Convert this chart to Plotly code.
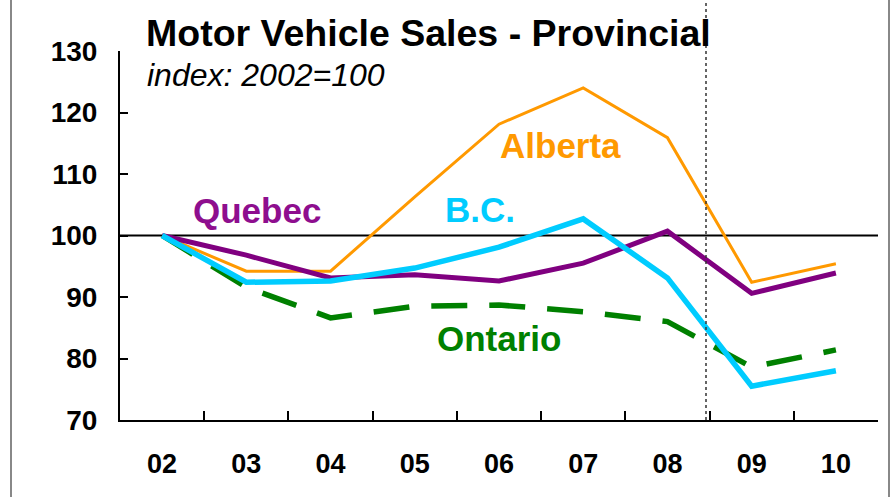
import plotly.graph_objects as go

years = ["02", "03", "04", "05", "06", "07", "08", "09", "10"]
alberta = [100, 94.2, 94.2, 106.3, 118.1, 124.0, 115.9, 92.4, 95.4]
quebec = [100, 96.8, 93.1, 93.6, 92.6, 95.5, 100.7, 90.6, 93.9]
bc = [100, 92.4, 92.6, 94.7, 98.1, 102.7, 93.1, 75.5, 78.0]
ontario = [100, 91.6, 86.6, 88.5, 88.7, 87.6, 86.0, 78.6, 81.4]
y_ticks = [70, 80, 90, 100, 110, 120, 130]

FONT = "Liberation Sans, Arial, sans-serif"
ORANGE = "#FF9900"
PURPLE = "#800080"
CYAN = "#00CCFF"
GREEN = "#008000"

fig = go.Figure()
fig.add_trace(go.Scatter(x=years, y=ontario, mode="lines", name="Ontario",
                         line=dict(color=GREEN, width=5.5, dash="36px,22px")))
fig.add_trace(go.Scatter(x=years, y=alberta, mode="lines", name="Alberta",
                         line=dict(color=ORANGE, width=3)))
fig.add_trace(go.Scatter(x=years, y=quebec, mode="lines", name="Quebec",
                         line=dict(color=PURPLE, width=5)))
fig.add_trace(go.Scatter(x=years, y=bc, mode="lines", name="B.C.",
                         line=dict(color=CYAN, width=5.5)))

L, R, T, B = 120, 15, 51, 77
W, H = 893, 497
pw, ph = W - L - R, H - T - B

def px(xp):
    return (xp - L) / pw

def py(yp):
    return (H - B - yp) / ph

shapes = [
    dict(type="line", xref="paper", yref="y", x0=0, x1=1, y0=100, y1=100,
         line=dict(color="black", width=2), layer="below"),
    dict(type="line", xref="paper", yref="paper", x0=px(706), x1=px(706),
         y0=0, y1=py(0), line=dict(color="#333333", width=1.5, dash="dot")),
    dict(type="line", xref="paper", yref="paper", x0=px(11), x1=px(11),
         y0=py(H), y1=py(0), line=dict(color="#888888", width=2)),
    dict(type="line", xref="paper", yref="paper", x0=px(889), x1=px(889),
         y0=py(H), y1=py(0), line=dict(color="#888888", width=2)),
]

annotations = [
    dict(text="Motor Vehicle Sales - Provincial", x=px(144), y=py(33),
         xanchor="left", yanchor="middle",
         font=dict(family=FONT, size=37.5, color="black", weight="bold")),
    dict(text="<i>index: 2002=100</i>", x=px(145), y=py(75),
         xanchor="left", yanchor="middle",
         font=dict(family=FONT, size=32, color="black")),
    dict(text="Quebec", x=px(257), y=py(210), xanchor="center", yanchor="middle",
         font=dict(family=FONT, size=35, color="#8E0E8E", weight="bold")),
    dict(text="Alberta", x=px(560), y=py(145), xanchor="center", yanchor="middle",
         font=dict(family=FONT, size=35, color=ORANGE, weight="bold")),
    dict(text="B.C.", x=px(480), y=py(209), xanchor="center", yanchor="middle",
         font=dict(family=FONT, size=35, color=CYAN, weight="bold")),
    dict(text="Ontario", x=px(499), y=py(338), xanchor="center", yanchor="middle",
         font=dict(family=FONT, size=35, color=GREEN, weight="bold")),
]
for a in annotations:
    a.update(xref="paper", yref="paper", showarrow=False)

fig.update_layout(
    width=W, height=H,
    margin=dict(l=L, r=R, t=T, b=B, pad=0),
    paper_bgcolor="white", plot_bgcolor="white",
    showlegend=False,
    shapes=shapes,
    annotations=annotations,
    xaxis=dict(type="category", categoryorder="array", categoryarray=years,
               range=[-0.5, 8.5], tickson="boundaries", ticks="inside",
               ticklen=9, tickwidth=2, tickcolor="black",
               showline=True, linecolor="black", linewidth=2,
               showgrid=False, zeroline=False, ticklabelstandoff=19,
               tickfont=dict(family=FONT, size=27, color="black", weight="bold")),
    yaxis=dict(range=[70, 130], tickvals=y_ticks, ticks="inside",
               ticklen=8, tickwidth=2, tickcolor="black",
               showline=True, linecolor="black", linewidth=2,
               showgrid=False, zeroline=False, ticklabelstandoff=15,
               tickfont=dict(family=FONT, size=28, color="black", weight="bold")),
)

fig.write_html("out.html",
               config={"displayModeBar": False},
               post_script="document.body.style.margin='0';document.body.style.padding='0';")
